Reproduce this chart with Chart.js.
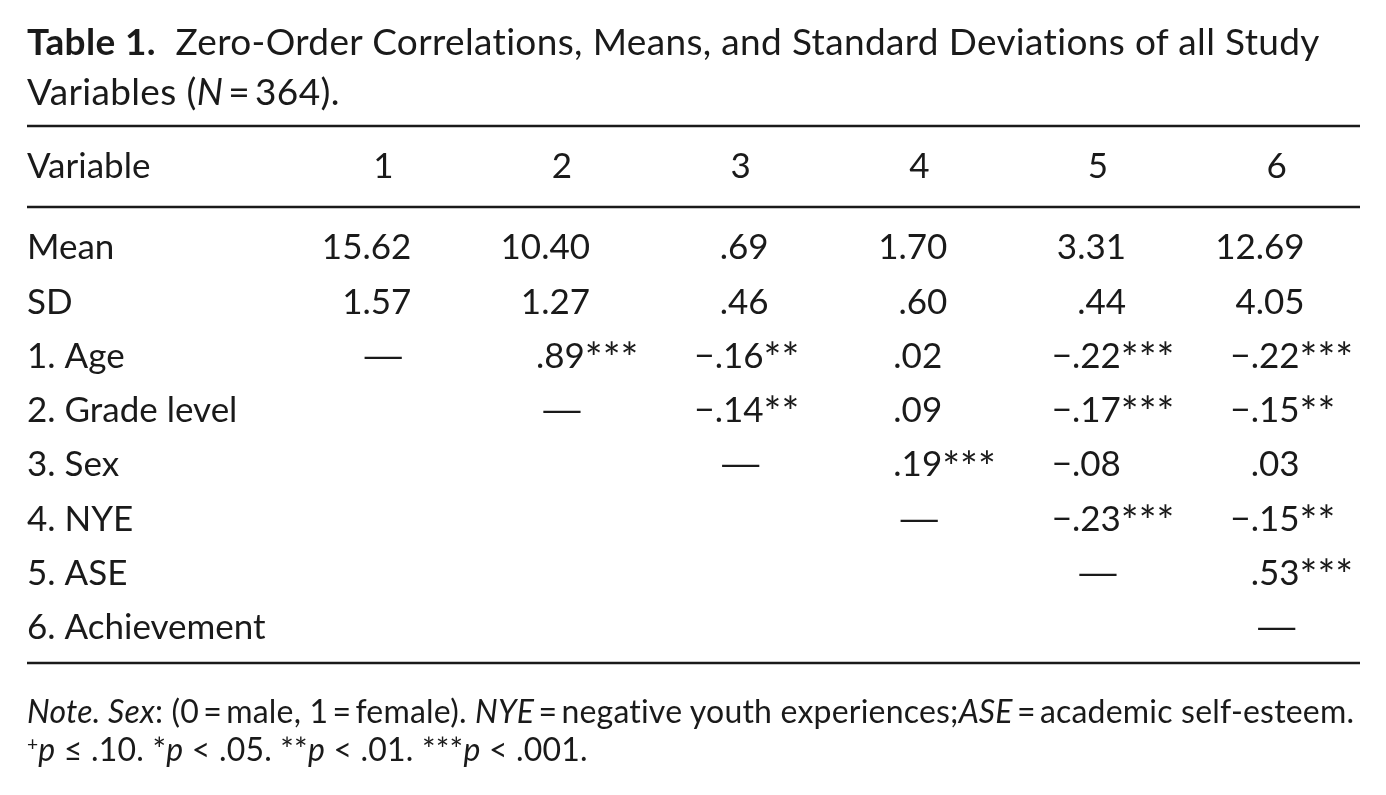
<!DOCTYPE html>
<html>
<head>
<meta charset="utf-8">
<script src="https://cdn.jsdelivr.net/npm/chart.js@4"></script>
<style>
  html, body { margin: 0; padding: 0; background: #fff; }
  #wrap { position: relative; width: 1386px; height: 795px; overflow: hidden; }
  #tbl { position: absolute; left: 0; top: 0; }
  .txt { position: absolute; left: 27px; white-space: nowrap; color: #1a1a1a; font-family: Lato, "Open Sans", sans-serif; }
  #title { top: 16px; font-size: 37px; line-height: 50px; letter-spacing: 0.35px; }
  #note { top: 692px; font-size: 32px; line-height: 38px; letter-spacing: 0.2px; }
  #note sup { font-size: 0.6em; vertical-align: 0.5em; line-height: 0; }
</style>
</head>
<body>
<div id="wrap">
  <canvas id="tbl" width="1386" height="795"></canvas>
  <div id="title" class="txt"><b>Table 1.</b>&nbsp; Zero-Order Correlations, Means, and Standard Deviations of all Study<br>Variables (<i>N</i>&thinsp;=&thinsp;364).</div>
  <div id="note" class="txt"><i>Note. Sex</i>: (0&thinsp;=&thinsp;male, 1&thinsp;=&thinsp;female). <i>NYE</i>&thinsp;=&thinsp;negative youth experiences;<i>ASE</i>&thinsp;=&thinsp;academic self-esteem.<br><sup>+</sup><i>p</i> ≤ .10. *<i>p</i> &lt; .05. **<i>p</i> &lt; .01. ***<i>p</i> &lt; .001.</div>
</div>
<script>
const columns = ["1", "2", "3", "4", "5", "6"];
const rowLabels = ["Mean", "SD", "1. Age", "2. Grade level", "3. Sex", "4. NYE", "5. ASE", "6. Achievement"];
const means = [15.62, 10.40, 0.69, 1.70, 3.31, 12.69];
const sds = [1.57, 1.27, 0.46, 0.60, 0.44, 4.05];

// upper triangle, row i holds r with variables i+2 .. 6
const corrAge = [0.89, -0.16, 0.02, -0.22, -0.22];
const corrGrade = [-0.14, 0.09, -0.17, -0.15];
const corrSex = [0.19, -0.08, 0.03];
const corrNYE = [-0.23, -0.15];
const corrASE = [0.53];
const starsAge = [3, 2, 0, 3, 3];
const starsGrade = [2, 0, 3, 2];
const starsSex = [3, 0, 0];
const starsNYE = [3, 2];
const starsASE = [3];

const corrRows = [corrAge, corrGrade, corrSex, corrNYE, corrASE, []];
const starRows = [starsAge, starsGrade, starsSex, starsNYE, starsASE, []];

function fmt(v) {
  let s = Math.abs(v).toFixed(2);
  if (s.startsWith("0")) s = s.slice(1);
  return (v < 0 ? "\u2212" : "") + s;
}

// build cells from the arrays
const cells = [];
means.forEach((v, j) => cells.push({ x: columns[j], y: rowLabels[0], text: fmt(v), kind: "desc" }));
sds.forEach((v, j) => cells.push({ x: columns[j], y: rowLabels[1], text: fmt(v), kind: "desc" }));
corrRows.forEach((row, i) => {
  cells.push({ x: columns[i], y: rowLabels[i + 2], text: "\u2014", kind: "dash" });
  row.forEach((v, k) => {
    cells.push({ x: columns[i + 1 + k], y: rowLabels[i + 2], text: fmt(v), stars: "*".repeat(starRows[i][k]), kind: "corr" });
  });
});

const ink = "#1a1a1a";
const fontFam = "Lato, 'Open Sans', sans-serif";
const cellFont = "35px " + fontFam;
const starFont = "42px " + fontFam;

const tablePlugin = {
  id: "tablePlugin",
  afterDraw(chart) {
    const ctx = chart.ctx;
    const area = chart.chartArea;
    const meta = chart.getDatasetMeta(0);
    ctx.save();
    ctx.fillStyle = ink;
    ctx.textBaseline = "middle";
    meta.data.forEach((pt, i) => {
      const c = cells[i];
      ctx.font = cellFont;
      if (c.kind === "dash") {
        // the source dash is wider than Lato's em dash
        ctx.save();
        ctx.translate(pt.x, pt.y);
        ctx.scale(1.6, 1);
        ctx.textAlign = "center";
        ctx.fillText(c.text, 0, 0);
        ctx.restore();
      } else if (c.kind === "desc") {
        ctx.textAlign = "right";
        ctx.fillText(c.text, pt.x + 28, pt.y);
      } else {
        const anchor = pt.x - 26;
        const dot = c.text.indexOf(".");
        ctx.textAlign = "right";
        ctx.fillText(c.text.slice(0, dot), anchor, pt.y);
        ctx.textAlign = "left";
        const rest = c.text.slice(dot);
        ctx.fillText(rest, anchor, pt.y);
        if (c.stars) {
          const w = ctx.measureText(rest).width;
          ctx.font = starFont;
          ctx.fillText(c.stars, anchor + w, pt.y + 3);
        }
      }
    });
    // header label for first column
    ctx.font = cellFont;
    ctx.textAlign = "left";
    ctx.fillText("Variable", chart.scales.y.left, area.top - 54);
    // rules
    ctx.strokeStyle = ink;
    ctx.lineWidth = 2.5;
    [area.top - 95, area.top - 14, area.bottom + 8].forEach(y => {
      ctx.beginPath();
      ctx.moveTo(27, y);
      ctx.lineTo(1360, y);
      ctx.stroke();
    });
    ctx.restore();
  }
};

Chart.defaults.font.family = fontFam;
Chart.defaults.color = ink;

new Chart(document.getElementById("tbl"), {
  type: "scatter",
  data: {
    datasets: [{
      data: cells.map(c => ({ x: c.x, y: c.y })),
      pointRadius: 0,
      pointHoverRadius: 0
    }]
  },
  options: {
    responsive: false,
    animation: false,
    events: [],
    layout: { padding: { left: 27, right: 20, top: 121, bottom: 140 } },
    plugins: { legend: { display: false }, tooltip: { enabled: false }, title: { display: false } },
    scales: {
      x: {
        type: "category",
        labels: columns,
        position: "top",
        offset: true,
        grid: { display: false, drawTicks: false },
        border: { display: false },
        ticks: { font: { size: 35 }, padding: 33, color: ink },
        afterFit: s => { s.height = 100; }
      },
      y: {
        type: "category",
        labels: rowLabels,
        offset: true,
        grid: { display: false, drawTicks: false },
        border: { display: false },
        ticks: { font: { size: 35 }, crossAlign: "far", padding: 0, color: ink },
        afterFit: s => { s.width = 267; }
      }
    }
  },
  plugins: [tablePlugin]
});
</script>
</body>
</html>
